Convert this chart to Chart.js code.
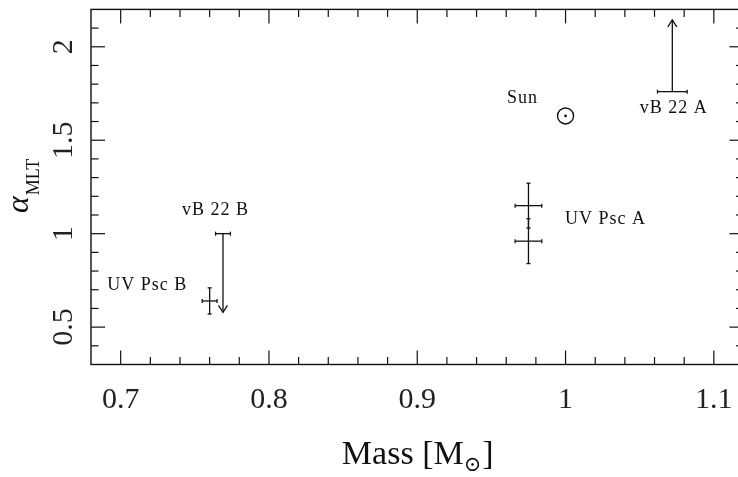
<!DOCTYPE html>
<html>
<head>
<meta charset="utf-8">
<script src="https://cdn.jsdelivr.net/npm/chart.js@4.4.1/dist/chart.umd.min.js"></script>
<style>
  html, body { margin: 0; padding: 0; background: #fff; overflow: hidden; }
  #wrap { width: 738px; height: 477px; overflow: hidden; }
  canvas { display: block; }
</style>
</head>
<body>
<div id="wrap"><canvas id="mainChart" width="760" height="477"></canvas></div>
<script>
    // measured stars with error bars (mass, alpha_MLT)
    const starX = [0.76, 0.975, 0.975];
    const starY = [0.64, 1.15, 0.96];
    const errX = [0.005, 0.009, 0.009];
    const errY = [0.07, 0.12, 0.12];

    // limits: bar at limFrom, arrow to limTo
    const limX = [0.769, 1.072];
    const limFrom = [1.0, 1.76];
    const limTo = [0.579, 2.144];
    const limCap = [0.005, 0.01];

    const sunX = [1.0];
    const sunY = [1.63];

    const labelText = ['UV Psc B', 'vB 22 B', 'UV Psc A', 'Sun', 'vB 22 A'];
    const labelX = [0.718, 0.764, 1.027, 0.971, 1.073];
    const labelY = [0.725, 1.126, 1.076, 1.722, 1.669];

    const xMajor = [0.7, 0.8, 0.9, 1.0, 1.1];
    const xTickLabels = ['0.7', '0.8', '0.9', '1', '1.1'];
    const xMinor = [0.72, 0.74, 0.76, 0.78, 0.82, 0.84, 0.86, 0.88, 0.92, 0.94, 0.96, 0.98, 1.02, 1.04, 1.06, 1.08];
    const yMajor = [0.5, 1.0, 1.5, 2.0];
    const yTickLabels = ['0.5', '1', '1.5', '2'];
    const yMinor = [0.4, 0.6, 0.7, 0.8, 0.9, 1.1, 1.2, 1.3, 1.4, 1.6, 1.7, 1.8, 1.9, 2.1];

    const ink = '#111';
    const serif = '"Liberation Serif", "DejaVu Serif", serif';

    function line(ctx, x1, y1, x2, y2) {
        ctx.beginPath();
        ctx.moveTo(x1, y1);
        ctx.lineTo(x2, y2);
        ctx.stroke();
    }

    const framePlugin = {
        id: 'frame',
        afterDraw(chart) {
            const { ctx, chartArea: a, scales: { x, y } } = chart;
            ctx.save();
            ctx.strokeStyle = ink;
            ctx.fillStyle = ink;
            ctx.lineWidth = 1.4;
            ctx.strokeRect(a.left, a.top, a.right - a.left, a.bottom - a.top);

            ctx.lineWidth = 1.2;
            const tick = (vals, len) => {
                vals.forEach(v => {
                    const px = x.getPixelForValue(v);
                    line(ctx, px, a.bottom, px, a.bottom - len);
                    line(ctx, px, a.top, px, a.top + len);
                });
            };
            const tickY = (vals, len) => {
                vals.forEach(v => {
                    const py = y.getPixelForValue(v);
                    line(ctx, a.left, py, a.left + len, py);
                    line(ctx, a.right, py, a.right - len, py);
                });
            };
            tick(xMajor, 14);
            tick(xMinor, 7.5);
            tickY(yMajor, 14);
            tickY(yMinor, 7.5);

            // tick labels
            ctx.fillStyle = '#222';
            ctx.font = '30px ' + serif;
            ctx.textAlign = 'center';
            ctx.textBaseline = 'alphabetic';
            xMajor.forEach((v, i) => {
                ctx.fillText(xTickLabels[i], x.getPixelForValue(v), a.bottom + 43);
            });
            yMajor.forEach((v, i) => {
                ctx.save();
                ctx.translate(a.left - 19, y.getPixelForValue(v));
                ctx.rotate(-Math.PI / 2);
                ctx.fillText(yTickLabels[i], 0, 0);
                ctx.restore();
            });
            ctx.fillStyle = ink;

            // x title: Mass [M_sun]
            ctx.textAlign = 'left';
            ctx.font = '34px ' + serif;
            const t1 = 'Mass [M';
            const w1 = ctx.measureText(t1).width;
            ctx.font = '21px ' + serif;
            const w2 = ctx.measureText('\u2299').width;
            ctx.font = '34px ' + serif;
            const w3 = ctx.measureText(']').width;
            let sx = (a.left + a.right) / 2 - (w1 + w2 + w3) / 2;
            ctx.fillText(t1, sx, 464);
            ctx.font = '21px ' + serif;
            ctx.fillText('\u2299', sx + w1, 471);
            ctx.font = '34px ' + serif;
            ctx.fillText(']', sx + w1 + w2 + 1, 464);

            // y title: alpha_MLT
            ctx.save();
            ctx.translate(28, 213);
            ctx.rotate(-Math.PI / 2);
            ctx.font = 'italic 32px ' + serif;
            ctx.fillText('\u03b1', 0, 0);
            const wa = ctx.measureText('\u03b1').width;
            ctx.font = '18px ' + serif;
            ctx.fillText('MLT', wa + 1, 11);
            ctx.restore();

            // data labels
            ctx.font = '18px ' + serif;
            ctx.letterSpacing = '1px';
            ctx.textAlign = 'center';
            ctx.textBaseline = 'middle';
            labelText.forEach((t, i) => {
                ctx.fillText(t, x.getPixelForValue(labelX[i]), y.getPixelForValue(labelY[i]));
            });
            ctx.restore();
        }
    };

    const errorPlugin = {
        id: 'errors',
        afterDatasetsDraw(chart) {
            const { ctx, scales: { x, y } } = chart;
            ctx.save();
            ctx.strokeStyle = ink;
            ctx.lineWidth = 1.3;
            starX.forEach((mx, i) => {
                const cx = x.getPixelForValue(mx);
                const cy = y.getPixelForValue(starY[i]);
                const x1 = x.getPixelForValue(mx - errX[i]);
                const x2 = x.getPixelForValue(mx + errX[i]);
                const y1 = y.getPixelForValue(starY[i] - errY[i]);
                const y2 = y.getPixelForValue(starY[i] + errY[i]);
                line(ctx, x1, cy, x2, cy);
                line(ctx, cx, y1, cx, y2);
                line(ctx, x1, cy - 2, x1, cy + 2);
                line(ctx, x2, cy - 2, x2, cy + 2);
                line(ctx, cx - 2, y1, cx + 2, y1);
                line(ctx, cx - 2, y2, cx + 2, y2);
            });
            limX.forEach((mx, i) => {
                const cx = x.getPixelForValue(mx);
                const yb = y.getPixelForValue(limFrom[i]);
                const yt = y.getPixelForValue(limTo[i]);
                const x1 = x.getPixelForValue(mx - limCap[i]);
                const x2 = x.getPixelForValue(mx + limCap[i]);
                line(ctx, x1, yb, x2, yb);
                line(ctx, x1, yb - 2, x1, yb + 2);
                line(ctx, x2, yb - 2, x2, yb + 2);
                line(ctx, cx, yb, cx, yt);
                const dir = yt < yb ? 1 : -1;
                ctx.beginPath();
                ctx.moveTo(cx - 4.5, yt + dir * 7);
                ctx.lineTo(cx, yt);
                ctx.lineTo(cx + 4.5, yt + dir * 7);
                ctx.stroke();
            });
            ctx.restore();
        }
    };

    const ctx = document.getElementById('mainChart').getContext('2d');
    const myChart = new Chart(ctx, {
        type: 'scatter',
        data: {
            datasets: [
                { label: 'stars', data: starX.map((v, i) => ({ x: v, y: starY[i] })), pointRadius: 0 },
                { label: 'Sun', data: sunX.map((v, i) => ({ x: v, y: sunY[i] })), pointRadius: 8, borderColor: ink, borderWidth: 1.4, backgroundColor: 'rgba(0,0,0,0)' },
                { label: 'Sun centre', data: sunX.map((v, i) => ({ x: v, y: sunY[i] })), pointRadius: 1.4, borderWidth: 0, backgroundColor: ink }
            ]
        },
        options: {
            responsive: false,
            animation: false,
            events: [],
            layout: { padding: { top: 4.5, right: 16.5, left: 0, bottom: 0 } },
            plugins: { legend: { display: false }, tooltip: { enabled: false } },
            scales: {
                x: {
                    type: 'linear', min: 0.68, max: 1.12,
                    grid: { display: false }, border: { display: false }, ticks: { display: false },
                    afterFit: s => { s.height = 112.5; }
                },
                y: {
                    type: 'linear', min: 0.3, max: 2.2,
                    grid: { display: false }, border: { display: false }, ticks: { display: false },
                    afterFit: s => { s.width = 91; }
                }
            }
        },
        plugins: [errorPlugin, framePlugin]
    });
</script>
</body>
</html>
